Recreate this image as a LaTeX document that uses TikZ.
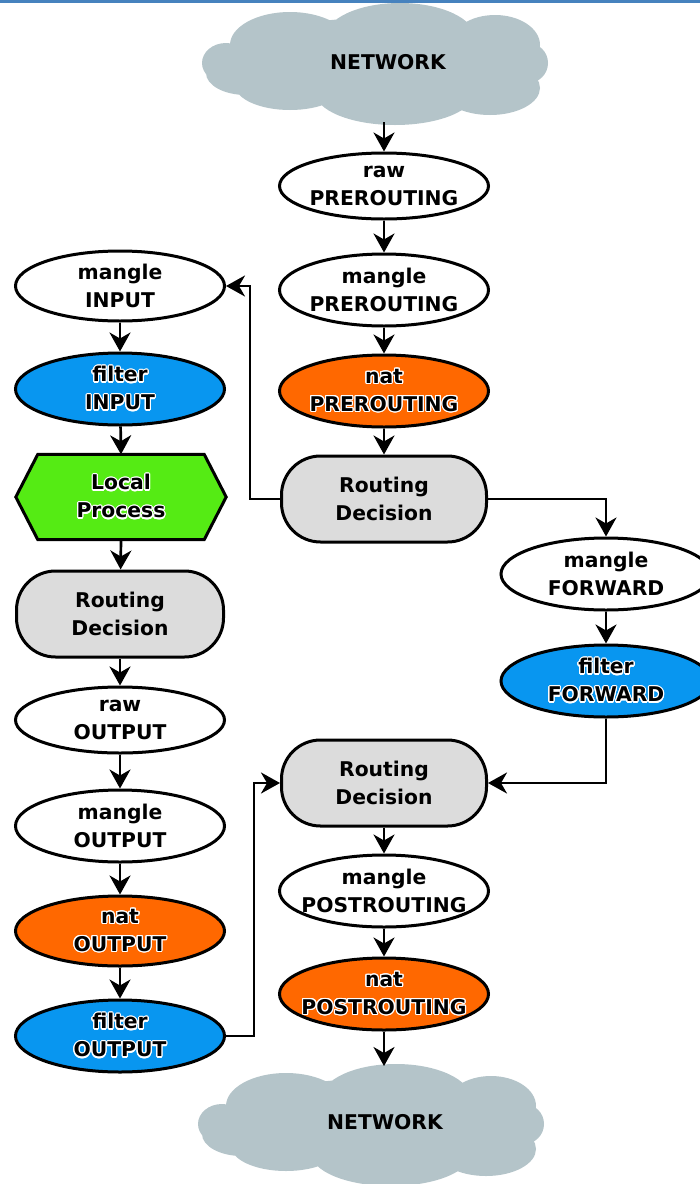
\documentclass[tikz,border=0pt]{standalone}
\usepackage{fontspec}
\setmainfont{DejaVu Sans}
\usepackage{contour}
\contourlength{1.2pt}
\usetikzlibrary{shapes.geometric, arrows.meta, calc}

\definecolor{cblue}{RGB}{8,150,240}
\definecolor{corange}{RGB}{255,104,0}
\definecolor{cgreen}{RGB}{85,235,20}
\definecolor{cgray}{RGB}{220,220,220}
\definecolor{ccloud}{RGB}{180,196,201}
\definecolor{cline}{RGB}{70,130,190}

\newcommand\hl[1]{\contour{white}{#1}}
\newcommand\lblfont{\fontsize{20.3}{28}\selectfont\bfseries}
\newcommand\cloudfill{%
  \fill[ccloud]
    (0,0) ellipse [x radius=150, y radius=45]
    (-150,0) ellipse [x radius=24, y radius=20]
    (-130,10) ellipse [x radius=40, y radius=22]
    (-86,-18) ellipse [x radius=60, y radius=33]
    (24,-25) ellipse [x radius=75, y radius=35]
    (119,-18) ellipse [x radius=45, y radius=30]
    (152,0) ellipse [x radius=20, y radius=20]
    (-86,22) ellipse [x radius=55, y radius=25]
    (19,29) ellipse [x radius=80, y radius=33]
    (114,25) ellipse [x radius=50, y radius=27];}

\tikzset{
  base/.style={draw=black, line width=3pt, inner sep=0pt},
  ell/.style={base, ellipse, minimum width=209pt, minimum height=72pt},
  rdbox/.style={base, rectangle, rounded corners=39pt, minimum width=205pt,
    minimum height=86pt, fill=cgray, align=center, font=\lblfont},
  txt/.style={align=center, font=\lblfont, inner sep=0pt},
  arr/.style={line width=2.7pt, -{Stealth[length=19pt,width=21pt,inset=6pt]}},
}

\begin{document}
\begin{tikzpicture}[x=1pt, y=-1pt]
\useasboundingbox (0,0) rectangle (700,1184);
\fill[white] (0,0) rectangle (700,1184);
\fill[cline] (0,0) rectangle (700,2.5);

% clouds
\begin{scope}[shift={(376,63)}]\cloudfill\end{scope}
\begin{scope}[shift={(372,1124)}]\cloudfill\end{scope}
\node[txt] (net1) at (388,62) {NETWORK};
\node[txt] (net2) at (385,1122) {NETWORK};
\coordinate (net1b) at (384,122);
\coordinate (net2t) at (384,1066);

% middle column
\node[ell, minimum height=66pt, label={[txt]center:{raw\\PREROUTING}}] (rawpre) at (384,186) {};
\node[ell, label={[txt]center:{mangle\\PREROUTING}}] (manpre) at (384,290) {};
\node[ell, fill=corange, label={[txt]center:{\hl{nat}\\\hl{PREROUTING}}}] (natpre) at (384,391) {};
\node[rdbox] (rd1) at (384,499) {Routing\\Decision};

% left column
\node[ell, minimum height=70pt, label={[txt]center:{mangle\\INPUT}}] (manin) at (120,286) {};
\node[ell, fill=cblue, label={[txt]center:{\hl{filter}\\\hl{INPUT}}}] (filin) at (120,389) {};
\node[minimum width=210pt, minimum height=85pt, inner sep=0pt] (lp) at (121,497) {};
\draw[base, fill=cgreen, line join=miter]
  (lp.west) -- ($(lp.north west)+(22,0)$) -- ($(lp.north east)+(-22,0)$) --
  (lp.east) -- ($(lp.south east)+(-22,0)$) -- ($(lp.south west)+(22,0)$) -- cycle;
\node[txt] (lpt) at (lp) {\hl{Local}\\\hl{Process}};
\node[rdbox, minimum width=207pt] (rd2) at (120,614) {Routing\\Decision};
\node[ell, minimum height=66pt, label={[txt]center:{raw\\OUTPUT}}] (rawout) at (120,720) {};
\node[ell, label={[txt]center:{mangle\\OUTPUT}}] (manout) at (120,826) {};
\node[ell, minimum height=70pt, fill=corange, label={[txt]center:{\hl{nat}\\\hl{OUTPUT}}}] (natout) at (120,931) {};
\node[ell, fill=cblue, label={[txt]center:{\hl{filter}\\\hl{OUTPUT}}}] (filout) at (120,1036) {};

% right column
\node[ell, minimum width=210pt, label={[txt]center:{mangle\\FORWARD}}] (manfw) at (606,574) {};
\node[ell, minimum width=210pt, fill=cblue, label={[txt]center:{\hl{filter}\\\hl{FORWARD}}}] (filfw) at (606,681) {};

% bottom middle
\node[rdbox] (rd3) at (384,783) {Routing\\Decision};
\node[ell, label={[txt]center:{mangle\\POSTROUTING}}] (manpost) at (384,891) {};
\node[ell, fill=corange, label={[txt]center:{\hl{nat}\\\hl{POSTROUTING}}}] (natpost) at (384,994) {};

% connectors
\draw[arr] (net1b) -- (rawpre);
\draw[arr] (rawpre) -- (manpre);
\draw[arr] (manpre) -- (natpre);
\draw[arr] (natpre) -- (rd1);
\draw[arr] (rd1.west) -- ++(-30,0) |- (manin.east);
\draw[arr] (rd1.east) -| (manfw.north);
\draw[arr] (manfw) -- (filfw);
\draw[arr] (filfw.south) |- (rd3.east);
\draw[arr] (manin) -- (filin);
\draw[arr] (filin) -- (lp.north);
\draw[arr] (lp.south) -- (rd2);
\draw[arr] (rd2) -- (rawout);
\draw[arr] (rawout) -- (manout);
\draw[arr] (manout) -- (natout);
\draw[arr] (natout) -- (filout);
\draw[arr] (filout.east) -- ++(28,0) |- (rd3.west);
\draw[arr] (rd3) -- (manpost);
\draw[arr] (manpost) -- (natpost);
\draw[arr] (natpost) -- (net2t);
\end{tikzpicture}
\end{document}
